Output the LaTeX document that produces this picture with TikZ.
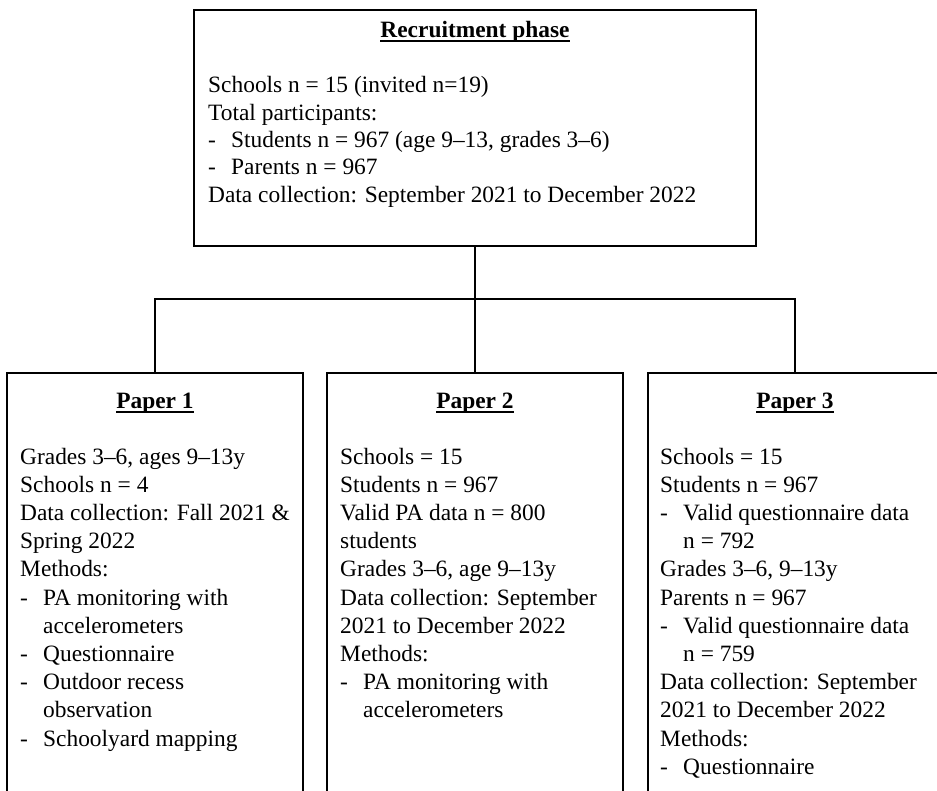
\documentclass[tikz,border=0pt]{standalone}
\usepackage{fontspec}
\setmainfont{Liberation Serif}
\newcommand{\dashitem}[1]{\makebox[23pt][l]{-}#1}
\newcommand{\contline}[1]{\hspace*{23pt}#1}
\begin{document}
\begin{tikzpicture}[x=1pt,y=1pt,
  box/.style={draw, line width=1.8pt, rectangle, inner sep=0pt},
  conn/.style={draw, line width=1.8pt, line join=miter},
  titletext/.style={inner sep=0pt, anchor=base, font=\fontsize{23.4pt}{28pt}\selectfont\bfseries},
  uline/.style={line width=1.6pt},
  bodyline/.style={inner sep=0pt, anchor=base west, font=\fontsize{23.4pt}{28pt}\selectfont}]
\useasboundingbox (0,0) rectangle (937,-791);
\clip (0,0) rectangle (937,-791);
\fill[white] (0,0) rectangle (937,-791);

% boxes
\node[box, minimum width=562pt, minimum height=236pt] (rec) at (475,-128) {};
\node[box, minimum width=296pt, minimum height=458pt] (p1) at (155,-602) {};
\node[box, minimum width=296pt, minimum height=458pt] (p2) at (475,-602) {};
\node[box, minimum width=294pt, minimum height=458pt] (p3) at (795,-602) {};

% connectors
\coordinate (j) at (475,-299);
\draw[conn] (rec.south) -- (p2.north);
\draw[conn] (p1.north) -- (p1.north |- j) -- (p3.north |- j) -- (p3.north);

% titles
\node[titletext] (t0) at (475,-38) {Recruitment phase};
\node[titletext] (t1) at (155,-409) {Paper 1};
\node[titletext] (t2) at (475,-409) {Paper 2};
\node[titletext] (t3) at (795,-409) {Paper 3};
\foreach \n in {t0,t1,t2,t3}
  \draw[uline] ([yshift=-3.2pt]\n.base west) -- ([yshift=-3.2pt]\n.base east);

% recruitment text
\foreach \t [count=\i] in {
  {Schools n = 15 (invited n=19)},
  {Total participants:},
  {\dashitem{Students n = 967 (age 9–13, grades 3–6)}},
  {\dashitem{Parents n = 967}},
  {Data collection: September 2021 to December 2022}}
  \node[bodyline] (r\i) at (208,{-93-27.3*(\i-1)}) {\t};

% paper 1 text
\foreach \t [count=\i] in {
  {Grades 3–6, ages 9–13y},
  {Schools n = 4},
  {Data collection: Fall 2021 \&},
  {Spring 2022},
  {Methods:},
  {\dashitem{PA monitoring with}},
  {\contline{accelerometers}},
  {\dashitem{Questionnaire}},
  {\dashitem{Outdoor recess}},
  {\contline{observation}},
  {\dashitem{Schoolyard mapping}}}
  \node[bodyline] (a\i) at (20,{-464-28.2*(\i-1)}) {\t};

% paper 2 text
\foreach \t [count=\i] in {
  {Schools = 15},
  {Students n = 967},
  {Valid PA data n = 800},
  {students},
  {Grades 3–6, age 9–13y},
  {Data collection: September},
  {2021 to December 2022},
  {Methods:},
  {\dashitem{PA monitoring with}},
  {\contline{accelerometers}}}
  \node[bodyline] (b\i) at (340,{-464-28.2*(\i-1)}) {\t};

% paper 3 text
\foreach \t [count=\i] in {
  {Schools = 15},
  {Students n = 967},
  {\dashitem{Valid questionnaire data}},
  {\contline{n = 792}},
  {Grades 3–6, 9–13y},
  {Parents n = 967},
  {\dashitem{Valid questionnaire data}},
  {\contline{n = 759}},
  {Data collection: September},
  {2021 to December 2022},
  {Methods:},
  {\dashitem{Questionnaire}}}
  \node[bodyline] (c\i) at (660,{-464-28.2*(\i-1)}) {\t};
\end{tikzpicture}
\end{document}
